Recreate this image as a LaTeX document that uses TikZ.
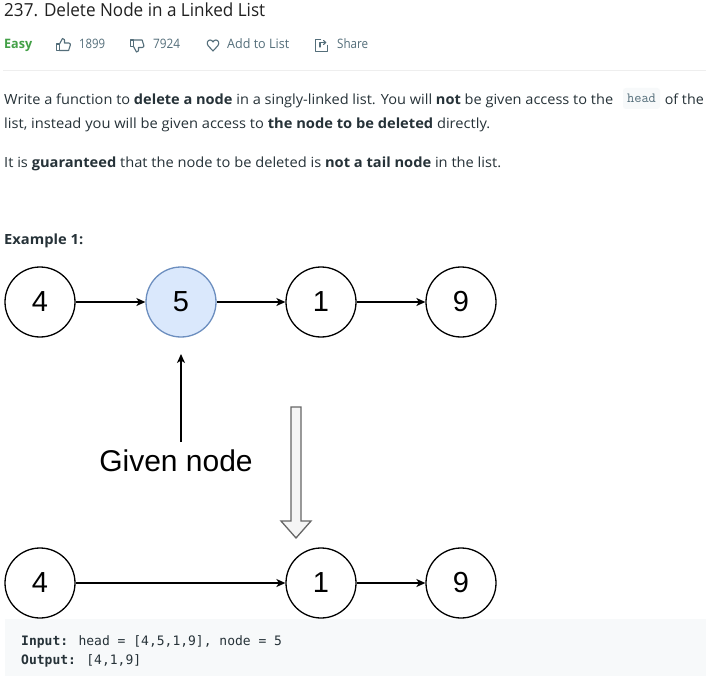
\documentclass[tikz,border=0pt]{standalone}
\usepackage{fontspec}
\usepackage{graphicx}
\setmainfont{Open Sans}
\newfontfamily\diafont{Liberation Sans}
\newfontfamily\codefont{DejaVu Sans Mono}
\usetikzlibrary{arrows.meta}
\definecolor{titlec}{HTML}{212121}
\definecolor{bodyc}{HTML}{263238}
\definecolor{easyc}{HTML}{43A047}
\definecolor{metac}{HTML}{546E7A}
\definecolor{sepc}{HTML}{EEEEEE}
\definecolor{codebg}{HTML}{F7F9FA}
\definecolor{selfill}{HTML}{DAE8FC}
\definecolor{seldraw}{HTML}{6C8EBF}
\definecolor{hollowfill}{HTML}{F5F5F5}
\definecolor{hollowdraw}{HTML}{666666}
\newcommand\fitto[2]{\resizebox{#1}{\height}{#2}}
\begin{document}
\begin{tikzpicture}[x=1pt,y=-1pt,
  txt/.style={inner sep=0pt, anchor=base west, text=bodyc, font=\fontsize{14}{16}\selectfont},
  meta/.style={inner sep=0pt, anchor=base west, text=metac, font=\fontsize{13}{15}\selectfont},
  icon/.style={draw=metac, line width=1.1pt, line join=round, line cap=round},
  lnode/.style={circle, draw=black, line width=1.3pt, minimum size=70pt, inner sep=0pt, font=\diafont\fontsize{29}{30}\selectfont},
  selnode/.style={lnode, fill=selfill, draw=seldraw},
  link/.style={draw=black, line width=1.3pt, -{Stealth[length=9pt,width=8pt,inset=2.5pt]}},
  codetxt/.style={inner sep=0pt, anchor=base west, text=bodyc, font=\codefont\fontsize{13}{15}\selectfont},
  inlinecode/.style={fill=codebg, rounded corners=3pt, minimum width=37pt, minimum height=21pt, inner sep=0pt, text=metac, font=\ttfamily\fontsize{14}{15}\selectfont}
]
\useasboundingbox (0,0) rectangle (706,676);
\fill[white] (0,0) rectangle (706,676);

% header
\node[inner sep=0pt, anchor=base west, text=titlec, font=\fontsize{18}{20}\selectfont] (title) at (4,17) {\fitto{261pt}{237. Delete Node in a Linked List}};
\node[meta, text=easyc, font=\bfseries\fontsize{13}{15}\selectfont] (easy) at (4,49) {\fitto{28pt}{Easy}};
% thumbs up
\draw[icon] (56.5,44) rectangle (59.5,50.5);
\draw[icon] (59.5,44) -- (62.5,38.5) .. controls (64.5,38.5) and (65,40) .. (64.5,43) -- (68.8,43) .. controls (70.3,43) and (70.6,44.3) .. (70.2,45.5) -- (68.6,50.5) -- (59.5,50.5);
\node[meta] (likes) at (79,49) {\fitto{26pt}{1899}};
% thumbs down
\draw[icon] (130.5,46.5) rectangle (133.5,40);
\draw[icon] (133.5,46.5) -- (136.5,52) .. controls (138.5,52) and (139,50.5) .. (138.5,47.5) -- (142.3,47.5) .. controls (143.8,47.5) and (144.1,46.2) .. (143.7,45) -- (142.1,40) -- (133.5,40);
\node[meta] (dislikes) at (153,49) {\fitto{27pt}{7924}};
% heart
\draw[icon] (213,51) -- (208.2,45.8) .. controls (206.2,43.4) and (207.5,40) .. (210.2,40) .. controls (211.6,40) and (212.5,41) .. (213,42) .. controls (213.5,41) and (214.4,40) .. (215.8,40) .. controls (218.5,40) and (219.8,43.4) .. (217.8,45.8) -- cycle;
\node[meta] (addlist) at (227,49) {\fitto{62pt}{Add to List}};
% share
\draw[icon] (320.5,39.8) -- (315.8,39.8) -- (315.8,51.3) -- (327.5,51.3) -- (327.5,45.5);
\draw[icon] (320,47) -- (320,42.5) -- (325.5,42.5);
\draw[icon] (323.5,40.5) -- (325.8,42.5) -- (323.5,44.5);
\node[meta] (share) at (337,49) {\fitto{31pt}{Share}};
\draw[sepc, line width=1pt] (3,71) -- (706,71);

% description
\node[txt] (l1a) at (4,105) {\fitto{609pt}{Write a function to \textbf{delete a node} in a singly-linked list. You will \textbf{not} be given access to the}};
\node[inlinecode] (head) at (641.5,98.5) {head};
\node[txt, anchor=base east] (l1b) at (704,105) {\fitto{39pt}{of the}};
\node[txt] (l2) at (4,129) {\fitto{486pt}{list, instead you will be given access to \textbf{the node to be deleted} directly.}};
\node[txt] (l3) at (4,168) {\fitto{497pt}{It is \textbf{guaranteed} that the node to be deleted is \textbf{not a tail node} in the list.}};
\node[txt, font=\bfseries\fontsize{14}{16}\selectfont] (ex) at (4,244) {\fitto{79pt}{Example 1:}};

% diagram, top row
\node[lnode] (a4) at (40,302) {4};
\node[selnode] (a5) at (181,302) {5};
\node[lnode] (a1) at (321,302) {1};
\node[lnode] (a9) at (461,302) {9};
\draw[link] (a4) -- (a5);
\draw[link] (a5) -- (a1);
\draw[link] (a1) -- (a9);

% given node pointer
\coordinate (gtail) at (181,442);
\coordinate (gtip) at (181,354);
\draw[link] (gtail) -- (gtip);
\node[inner sep=0pt, anchor=base, font=\diafont\fontsize{30}{32}\selectfont] (given) at (176,471) {Given node};

% hollow down arrow
\draw[fill=hollowfill, draw=hollowdraw, line width=1.3pt, line join=miter]
  (291,407) -- (301,407) -- (301,521) -- (311,521) -- (296,538) -- (281,521) -- (291,521) -- cycle;

% bottom row
\node[lnode] (b4) at (40,583) {4};
\node[lnode] (b1) at (321,583) {1};
\node[lnode] (b9) at (461,583) {9};
\draw[link] (b4) -- (b1);
\draw[link] (b1) -- (b9);

% code block
\fill[codebg] (5,619) rectangle (706,676);
\node[codetxt] (inp) at (21,645) {\textbf{Input:} head = [4,5,1,9], node = 5};
\node[codetxt] (outp) at (21,664) {\textbf{Output:} [4,1,9]};
\end{tikzpicture}
\end{document}
